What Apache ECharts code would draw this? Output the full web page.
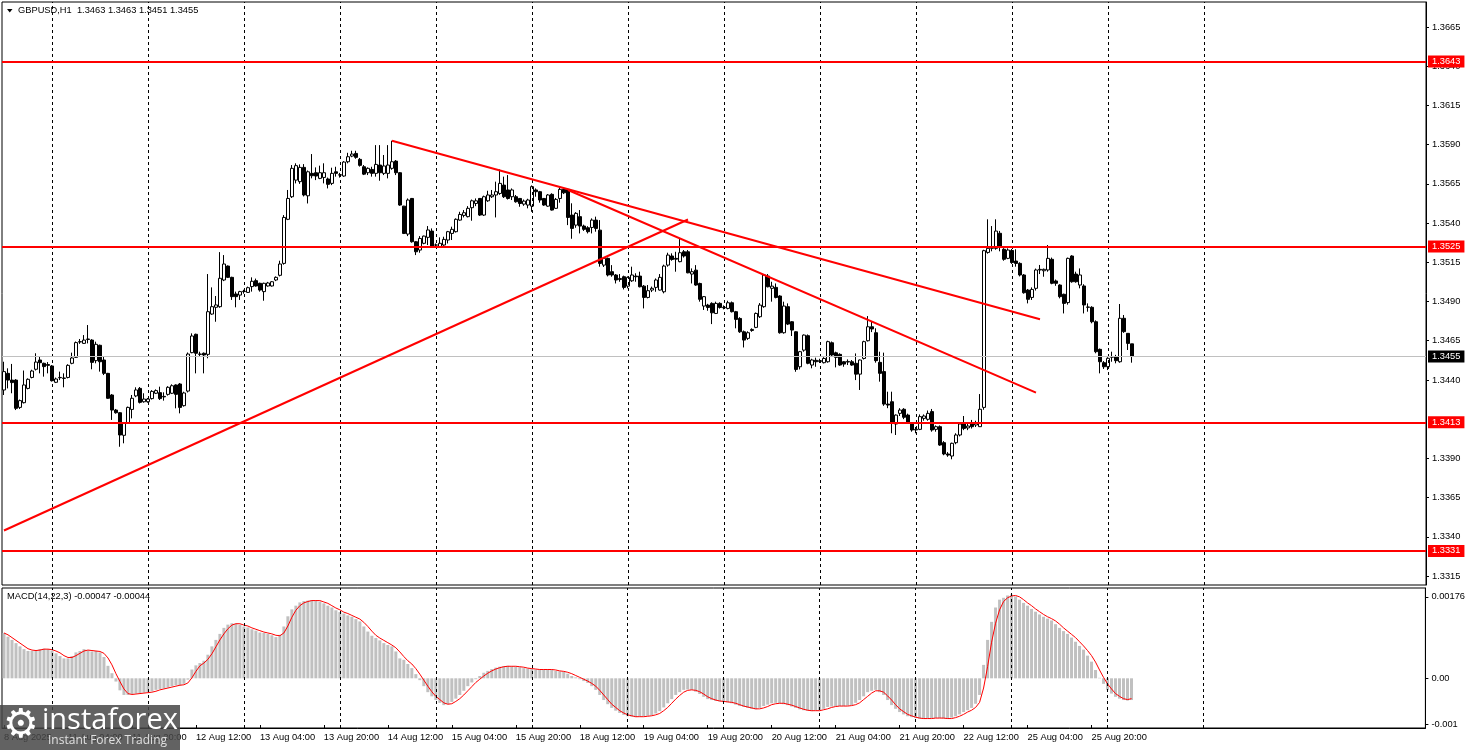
<!DOCTYPE html>
<html><head><meta charset="utf-8">
<script src="https://cdn.jsdelivr.net/npm/echarts@6/dist/echarts.min.js"></script>
<style>html,body{margin:0;padding:0;background:#fff}#c{width:1468px;height:750px}</style>
</head><body><div id="c"></div>
<script>
// Prices stored as pips above BASE
const BASE = 1.3300;
const openPips = [
133.6,144.2,139.9,139.9,122.5,125.5,134.6,141.6,146.8,152.7,
150.6,149.8,148.9,138.5,141.4,141.2,141.6,150.6,154.4,164.2,
163.3,165.8,165.4,152.3,162.1,152.7,144.2,130.4,120.8,119.1,
104.7,112.8,121.2,129.8,134.6,126.1,126.1,128.1,131.5,131.9,
129.5,130.8,131.5,136.8,137.4,123.6,132.9,157.4,169.1,156.3,
157.0,156.3,182.0,186.3,186.7,203.7,212.6,205.4,194.8,194.1,
196.3,195.8,199.5,203.3,201.6,196.3,199.9,199.9,203.7,206.7,
214.3,242.4,256.8,267.4,266.4,275.5,257.4,271.7,272.1,268.5,
269.1,268.1,265.3,272.7,270.6,270.0,279.1,282.7,284.4,280.6,
275.9,272.1,274.2,271.7,277.0,271.7,271.7,274.9,279.5,272.1,
250.8,233.0,255.7,228.1,222.8,227.1,230.9,234.9,226.0,224.9,
226.0,229.2,233.4,234.5,241.9,244.9,244.1,249.8,252.5,255.7,
245.1,254.2,256.8,257.9,258.9,264.2,261.1,256.8,256.8,255.7,
252.1,251.5,250.8,261.1,260.0,255.7,250.8,258.3,249.4,255.7,
261.5,261.5,245.1,238.7,244.1,238.1,237.0,237.2,241.9,235.5,
213.2,217.5,209.0,206.9,204.0,205.8,199.8,203.2,206.2,206.2,
199.8,192.6,197.3,199.0,197.3,196.2,213.2,219.0,217.5,215.4,
221.7,221.7,207.5,210.0,201.5,187.1,187.7,188.8,182.4,188.8,
186.0,185.6,189.2,183.5,179.2,170.7,166.5,171.5,173.5,180.3,
186.7,206.2,198.4,199.0,193.5,170.1,186.7,177.1,170.7,148.4,
159.0,168.2,149.5,152.5,151.8,151.0,151.6,163.7,157.3,156.3,
151.6,151.4,151.6,150.6,143.7,153.7,165.0,173.9,170.1,151.2,
145.3,124.6,126.1,111.9,118.7,121.3,117.6,112.4,108.1,108.5,
115.5,114.9,119.8,108.5,110.2,100.0,92.8,91.5,100.0,104.9,
111.9,109.4,111.9,111.3,110.2,122.5,221.3,223.9,223.9,233.5,
223.3,217.5,222.5,215.8,214.3,206.9,197.3,192.6,198.4,210.1,
209.6,210.1,216.9,203.1,200.5,194.6,189.3,219.0,207.5,200.5,
199.9,186.3,186.3,177.1,159.5,151.0,148.4,154.5,154.8,151.6,
179.3,169.7,163.0];
const highPips = [
151.6,147.4,150.2,140.5,127.5,146.0,141.0,146.5,157.0,154.8,
151.0,151.4,149.5,141.5,145.3,144.2,150.0,157.4,164.5,166.1,
168.6,175.0,166.0,164.4,162.5,154.8,144.5,131.0,121.5,119.5,
113.0,123.0,130.4,135.3,135.5,131.5,128.5,133.5,134.0,135.7,
132.1,136.0,137.2,137.2,138.0,132.5,157.5,169.7,169.5,158.0,
157.5,207.5,199.0,193.5,221.5,219.6,213.0,205.8,196.3,196.8,
197.5,199.5,205.4,204.6,202.0,202.0,202.5,203.0,206.0,216.0,
245.1,261.1,277.0,278.1,277.4,277.6,273.5,284.0,275.5,276.6,
278.1,269.0,275.3,275.9,272.0,279.5,284.8,286.1,286.1,281.5,
277.0,275.5,275.9,289.7,289.7,283.4,289.7,292.5,280.2,272.5,
251.0,255.7,256.0,228.5,231.7,232.0,238.1,236.6,227.0,230.9,
231.3,235.0,237.7,243.0,247.2,248.3,250.8,255.0,255.7,256.0,
257.5,260.6,261.1,266.4,274.2,269.6,270.6,262.1,257.9,256.0,
255.0,255.5,264.0,262.1,260.5,256.0,258.5,259.0,256.0,263.2,
262.5,262.0,252.6,247.0,248.3,239.0,238.0,243.0,244.1,241.9,
218.0,218.0,213.2,207.5,207.5,206.5,206.0,212.2,208.0,209.0,
200.5,200.5,199.5,204.7,207.5,213.5,221.1,220.7,221.7,230.2,
222.8,222.8,211.1,213.2,202.0,193.5,188.5,189.5,189.9,189.5,
187.5,190.5,190.0,184.0,180.0,171.5,171.0,172.9,183.0,189.0,
207.5,207.5,202.6,201.5,194.0,189.9,188.8,177.5,171.0,158.5,
169.0,169.0,153.5,154.2,153.5,154.5,165.0,164.5,158.0,157.0,
152.0,153.1,152.7,156.9,153.0,165.0,180.7,177.0,172.9,158.0,
157.4,132.5,132.5,118.0,122.0,122.0,118.5,113.0,110.0,118.0,
118.0,120.5,121.5,111.0,111.0,101.0,94.0,100.0,106.0,113.0,
117.0,112.0,114.5,114.0,131.0,223.0,242.4,238.1,242.4,235.0,
224.0,223.9,223.5,223.3,215.0,207.5,198.0,199.0,211.0,213.3,
211.0,226.0,218.0,204.0,201.0,195.0,218.0,219.5,209.0,211.1,
201.0,188.8,187.0,178.0,160.0,152.0,154.5,158.0,156.0,188.4,
181.4,169.7,163.0];
const lowPips = [
130.4,134.6,131.5,120.8,121.5,125.0,134.0,141.0,146.0,144.2,
142.1,144.2,139.0,138.0,139.9,135.3,141.0,150.0,154.0,163.0,
163.0,163.3,146.8,150.6,145.3,143.1,128.0,114.5,118.5,97.4,
99.6,112.0,115.5,129.0,125.0,125.5,125.5,127.5,131.0,127.2,
126.8,130.0,131.0,121.9,118.7,123.0,132.0,157.0,144.2,154.8,
144.2,153.8,181.5,177.1,186.0,203.0,205.0,191.0,186.3,191.0,
195.0,195.5,196.3,199.5,196.3,190.5,199.5,199.5,203.0,206.0,
213.5,241.9,256.0,265.3,265.0,257.0,252.5,268.5,267.4,268.0,
265.3,262.1,264.2,269.6,269.0,269.5,278.1,282.0,281.0,276.0,
270.6,270.6,269.6,269.6,267.0,270.6,268.5,274.0,270.6,251.0,
233.0,231.7,227.5,219.6,221.1,226.5,226.0,224.5,224.5,224.5,
225.5,227.0,229.2,234.0,241.5,243.6,243.6,241.5,250.8,244.5,
244.5,253.5,256.0,243.6,258.0,256.0,255.0,254.7,253.0,250.4,
251.0,249.4,247.2,256.8,253.0,251.0,250.4,248.0,249.0,253.0,
258.5,238.7,230.0,237.0,233.4,235.0,233.4,233.4,234.5,212.2,
212.0,206.0,205.8,201.5,202.6,197.7,198.4,202.5,202.6,199.0,
185.6,192.0,196.0,196.2,197.0,195.2,212.2,216.0,209.0,215.0,
218.0,208.0,201.5,200.0,189.9,184.6,184.1,175.6,182.0,185.5,
185.0,185.0,183.0,172.9,170.0,160.7,165.5,170.7,173.0,179.5,
186.0,199.0,189.9,192.0,169.5,169.5,175.0,168.0,145.2,146.7,
158.0,150.0,147.4,148.4,150.8,150.5,151.0,155.0,148.0,149.0,
148.4,149.5,149.0,139.9,133.6,153.0,164.5,170.5,151.0,138.9,
123.5,122.0,106.0,104.9,117.0,115.0,112.0,107.0,106.0,108.0,
114.0,114.0,107.0,107.0,98.0,92.0,91.0,89.4,99.0,104.0,
108.0,108.0,109.0,110.0,110.0,121.0,220.5,222.0,223.0,222.0,
216.0,217.0,214.0,212.2,206.0,195.0,188.8,191.0,197.0,207.5,
205.8,209.0,201.0,200.0,192.0,182.4,188.0,202.0,202.0,198.4,
182.4,183.5,176.1,157.0,144.2,147.0,146.3,151.6,150.6,151.0,
170.0,159.1,151.0];
const closePips = [
145.3,139.9,138.3,121.9,126.8,136.8,140.4,145.7,151.4,151.0,
148.5,149.3,139.5,140.6,141.6,141.0,149.3,154.0,163.8,164.4,
165.4,166.1,151.2,162.7,151.6,144.2,128.3,120.8,119.1,104.9,
112.3,122.5,128.3,133.6,125.7,127.8,127.8,132.7,133.2,128.1,
129.2,135.3,136.3,130.8,122.5,131.7,156.5,168.0,157.0,156.5,
155.9,183.5,186.7,187.8,204.8,213.9,205.4,193.1,193.1,196.3,
196.5,198.8,202.9,199.9,197.3,201.6,201.8,202.6,205.4,213.9,
243.6,255.7,274.9,276.6,275.5,257.9,272.7,270.2,270.0,272.1,
272.1,264.7,271.7,271.7,270.8,278.9,282.3,284.0,281.9,276.8,
271.2,274.9,271.7,277.4,272.1,276.4,277.0,279.1,272.1,251.5,
233.4,254.7,228.1,221.7,230.2,231.7,235.6,224.9,226.0,227.1,
229.6,234.5,236.0,242.4,245.5,246.6,249.4,254.2,254.2,245.1,
256.8,257.9,257.9,260.0,265.3,256.8,255.7,261.1,253.6,252.5,
254.0,254.7,263.2,260.0,254.7,251.5,257.9,248.3,255.1,261.5,
259.3,243.6,236.6,246.2,238.1,236.0,234.5,241.9,236.6,214.3,
217.5,206.9,206.9,203.7,204.7,199.0,205.4,206.9,205.8,199.4,
192.6,196.9,198.4,203.7,205.4,212.6,219.6,216.8,217.0,221.1,
219.0,208.3,209.0,200.5,191.4,193.1,186.2,182.8,188.8,186.2,
186.3,189.2,183.5,178.6,170.7,165.4,170.1,172.2,182.4,187.7,
206.9,199.4,199.8,192.6,170.1,187.1,175.6,171.8,146.7,158.0,
168.6,150.6,152.7,151.6,152.3,153.7,164.4,155.9,154.4,149.5,
150.1,151.8,149.5,143.7,152.7,164.4,173.9,172.5,152.3,144.2,
124.6,124.0,112.8,117.6,120.8,116.2,112.8,108.1,108.5,116.6,
117.0,118.7,108.1,110.2,98.5,92.8,92.1,99.6,104.9,111.9,
109.1,110.6,110.2,112.8,121.3,222.4,223.9,225.0,234.9,225.0,
216.9,222.8,214.8,214.3,206.9,195.6,191.4,197.7,210.1,210.5,
210.5,217.5,201.6,201.6,193.1,188.8,217.5,202.6,202.6,206.9,
187.8,186.5,177.1,158.0,151.6,148.4,153.8,154.8,152.3,179.3,
170.8,163.3,155.0];
// MACD values in units of 1e-5
const macdMain = [
98,90,83,76,69,63,59,59,61,63,
64,63,60,54,48,43,43,48,56,59,
63,60,58,59,56,46,27,11,-7,-26,
-36,-36,-34,-33,-33,-31,-30,-28,-25,-23,
-22,-20,-17,-15,-15,-12,-3,19,28,33,
38,51,69,83,96,109,116,119,118,116,
112,110,106,103,99,98,96,93,89,94,
112,134,149,157,164,167,168,169,168,166,
162,157,153,147,143,140,136,133,128,123,
112,101,92,87,82,76,72,69,58,43,
40,31,22,9,-4,-17,-30,-39,-47,-53,
-58,-56,-51,-44,-36,-27,-17,-9,-2,5,
12,16,20,23,25,26,27,26,25,24,
22,21,20,19,18,19,20,18,16,15,
14,10,5,2,-2,-6,-10,-17,-25,-36,
-47,-56,-64,-70,-75,-79,-82,-83,-84,-83,
-82,-81,-80,-76,-71,-63,-54,-45,-36,-30,
-25,-24,-25,-29,-34,-40,-45,-47,-49,-50,
-51,-52,-54,-57,-60,-62,-64,-66,-67,-64,
-60,-57,-54,-53,-54,-56,-58,-61,-64,-67,
-69,-70,-71,-70,-69,-66,-62,-61,-60,-60,
-60,-59,-58,-53,-47,-39,-30,-27,-25,-30,
-36,-47,-58,-66,-73,-78,-82,-84,-86,-87,
-88,-87,-86,-86,-86,-87,-88,-85,-82,-78,
-73,-69,-64,-55,-36,29,83,122,153,170,
174,179,181,177,170,163,157,150,144,138,
133,129,125,117,109,102,96,88,79,70,
62,49,36,18,1,-12,-25,-33,-40,-44,
-47,-48,-47];
const macdSignal = [
98,94,88,82,76,70,64,61,60,61,
63,63,62,59,55,49,45,45,49,54,
59,61,60,59,58,54,44,29,10,-7,
-23,-33,-35,-34,-33,-32,-31,-30,-28,-25,
-23,-21,-19,-17,-15,-14,-10,1,15,27,
33,41,53,68,83,96,107,115,118,118,
115,113,109,106,103,100,98,96,93,92,
98,113,132,147,157,163,166,168,168,168,
165,162,157,152,148,143,140,136,132,128,
121,112,102,93,87,82,77,72,66,57,
47,38,31,21,9,-4,-17,-29,-39,-46,
-53,-56,-55,-50,-44,-36,-27,-18,-9,-2,
5,11,16,20,23,25,26,26,26,25,
24,22,21,20,19,19,19,19,18,16,
15,13,10,6,2,-2,-6,-11,-17,-26,
-36,-46,-56,-63,-70,-75,-79,-81,-83,-83,
-83,-82,-81,-79,-76,-70,-63,-54,-45,-37,
-30,-26,-25,-26,-29,-34,-40,-44,-47,-49,
-50,-51,-52,-54,-57,-60,-62,-64,-66,-66,
-64,-61,-57,-55,-54,-54,-56,-58,-61,-64,
-67,-69,-70,-70,-70,-68,-66,-63,-61,-60,
-60,-60,-59,-57,-53,-46,-39,-32,-27,-27,
-30,-38,-47,-57,-66,-72,-78,-81,-84,-86,
-87,-87,-87,-86,-86,-86,-87,-87,-85,-82,
-78,-73,-69,-63,-52,-21,25,78,119,148,
166,174,178,179,176,170,163,157,150,144,
138,133,129,124,117,109,102,95,88,79,
70,60,49,35,18,2,-12,-23,-33,-39,
-44,-46,-44];
const levels = [1.3643, 1.3525, 1.3413, 1.3331];
const currentPrice = 1.3455;
// trend lines: [[barIndex, price],[barIndex, price]]
const trendLines = [
  [[0, 1.33440], [171, 1.35423]],
  [[97, 1.35925], [259, 1.34787]],
  [[141, 1.35611], [258, 1.34319]]
];
const priceTicks = [1.3315,1.3340,1.3365,1.3390,1.3440,1.3465,1.3490,1.3515,1.3540,1.3565,1.3590,1.3615,1.3640,1.3665];
const macdTicks = [0.00176, 0, -0.001];
const macdTickLabels = ['0.00176', '0.00', '-0.001'];
const gridBars = [12,36,60,84,108,132,156,180,204,228,252,276,300];
const titleText = 'GBPUSD,H1  1.3463 1.3463 1.3451 1.3455';
const macdText = 'MACD(14,22,3) -0.00047 -0.00044';

// categories: hourly bars, weekends skipped
const MONTHS = ['Jan','Feb','Mar','Apr','May','Jun','Jul','Aug','Sep','Oct','Nov','Dec'];
const N_SLOTS = 356;
const cats = [];
let t = Date.UTC(2025, 7, 8, 12);
while (cats.length < N_SLOTS) {
  const d = new Date(t);
  const wd = d.getUTCDay();
  if (wd !== 0 && wd !== 6) {
    const lab = cats.length === 0
      ? d.getUTCDate() + ' ' + MONTHS[d.getUTCMonth()] + ' ' + d.getUTCFullYear()
      : d.getUTCDate() + ' ' + MONTHS[d.getUTCMonth()] + ' ' + String(d.getUTCHours()).padStart(2, '0') + ':00';
    cats.push(lab);
  }
  t += 3600000;
}
const LAST = closePips.length - 1;
const px = v => +(BASE + v / 10000).toFixed(5);
const candles = closePips.map((c, i) => [px(openPips[i]), px(c), px(lowPips[i]), px(highPips[i])]);

const FONT = 'Liberation Sans';
const FS = 9.3;
const PMAX = 1.3665 + 25 / 15686;
const PMIN = 1.3665 - 558 / 15686;
const MK = 46268;
const MMAX = (678.3 - 588) / MK;
const MMIN = -(728 - 678.3) / MK;

const vgrid = gridBars.map(b => ({xAxis: cats[b], lineStyle: {color: '#000', width: 1, type: [3, 3]}, label: {show: false}}));
const mainML = vgrid.slice();
mainML.push({yAxis: currentPrice, lineStyle: {color: '#c0c0c0', width: 1, type: 'solid'},
  label: {show: true, position: 'end', distance: 2, formatter: currentPrice.toFixed(4), backgroundColor: '#000', color: '#fff', padding: [2, 4, 1, 4], fontSize: FS, fontFamily: FONT}});
levels.forEach(v => mainML.push({yAxis: v, lineStyle: {color: '#ff0000', width: 2, type: 'solid'},
  label: {show: true, position: 'end', distance: 2, formatter: v.toFixed(4), backgroundColor: '#ff0000', color: '#fff', padding: [2, 4, 1, 4], fontSize: FS, fontFamily: FONT}}));
trendLines.forEach(tl => mainML.push([
  {coord: [cats[tl[0][0]], tl[0][1]], lineStyle: {color: '#ff0000', width: 2, type: 'solid'}, label: {show: false}},
  {coord: [cats[tl[1][0]], tl[1][1]]}
]));

const labelInterval = (idx) => idx % 16 === 0 && idx <= LAST;

const option = {
  animation: false,
  backgroundColor: '#ffffff',
  textStyle: {fontFamily: FONT},
  grid: [
    {left: 2, right: 42, top: 2, height: 583, show: true, borderColor: '#000', borderWidth: 1, backgroundColor: '#fff'},
    {left: 2, right: 42, top: 588, height: 140, show: true, borderColor: '#000', borderWidth: 1, backgroundColor: '#fff'}
  ],
  xAxis: [
    {type: 'category', gridIndex: 0, data: cats, boundaryGap: true, axisLine: {show: false}, axisTick: {show: false}, axisLabel: {show: false}, splitLine: {show: false}},
    {type: 'category', gridIndex: 1, data: cats, boundaryGap: true, position: 'bottom',
      axisLine: {show: true, onZero: false, lineStyle: {color: '#000'}},
      axisTick: {show: true, alignWithLabel: true, inside: true, length: 3, interval: labelInterval, lineStyle: {color: '#000'}},
      axisLabel: {show: true, interval: labelInterval, align: 'left', margin: 5, fontSize: FS, color: '#000', fontFamily: FONT},
      splitLine: {show: false}}
  ],
  yAxis: [
    {type: 'value', gridIndex: 0, position: 'right', min: PMIN, max: PMAX, scale: true,
      splitLine: {show: false},
      axisLine: {show: true, lineStyle: {color: '#000'}},
      axisTick: {show: true, customValues: priceTicks, length: 3, lineStyle: {color: '#000'}},
      axisLabel: {show: true, customValues: priceTicks, formatter: v => v.toFixed(4), fontSize: FS, color: '#000', margin: 6, fontFamily: FONT}},
    {type: 'value', gridIndex: 1, position: 'right', min: MMIN, max: MMAX,
      splitLine: {show: false},
      axisLine: {show: true, lineStyle: {color: '#000'}},
      axisTick: {show: true, customValues: macdTicks, length: 3, lineStyle: {color: '#000'}},
      axisLabel: {show: true, customValues: macdTicks, formatter: v => {
        let k = 0, best = 1;
        macdTicks.forEach((m, j) => { if (Math.abs(m - v) < best) { best = Math.abs(m - v); k = j; } });
        return macdTickLabels[k];
      }, fontSize: FS, color: '#000', margin: 6, fontFamily: FONT}}
  ],
  series: [
    {type: 'candlestick', xAxisIndex: 0, yAxisIndex: 0, data: candles, barWidth: 3,
      itemStyle: {color: '#ffffff', color0: '#000000', borderColor: '#000000', borderColor0: '#000000', borderWidth: 1},
      markLine: {symbol: ['none', 'none'], precision: 5, silent: true, animation: false, data: mainML}},
    {type: 'bar', xAxisIndex: 1, yAxisIndex: 1, data: macdMain.map(v => v / 100000), barWidth: 3,
      itemStyle: {color: '#c0c0c0'},
      markLine: {symbol: ['none', 'none'], precision: 6, silent: true, animation: false, data: vgrid}},
    {type: 'line', xAxisIndex: 1, yAxisIndex: 1, data: macdSignal.map(v => v / 100000), showSymbol: false, symbol: 'none',
      lineStyle: {color: '#ff0000', width: 1}, z: 3}
  ],
  graphic: [
    {type: 'polygon', shape: {points: [[7, 9], [12.5, 9], [9.75, 12.5]]}, style: {fill: '#000'}, z: 100},
    {type: 'text', x: 18, y: 10.5, style: {text: titleText, fill: '#000', font: FS + 'px "' + FONT + '"', verticalAlign: 'middle'}, z: 100},
    {type: 'text', x: 7, y: 596, style: {text: macdText, fill: '#000', font: FS + 'px "' + FONT + '"', verticalAlign: 'middle'}, z: 100},
    {type: 'group', z: 100, children: [
      {type: 'rect', shape: {x: 0, y: 705, width: 180, height: 45}, style: {fill: 'rgba(70,70,70,0.85)'}, z: 100},
      {type: 'text', x: 3, y: 727, style: {text: '\u2699', fill: '#fff', font: '40px "DejaVu Sans"', verticalAlign: 'middle'}, z: 101},
      {type: 'text', x: 42, y: 721, style: {text: 'instaforex', fill: '#fff', font: '29px "Open Sans"', verticalAlign: 'middle'}, z: 101},
      {type: 'text', x: 48, y: 741, style: {text: 'Instant Forex Trading', fill: '#e0e0e0', font: '12px "Open Sans"', verticalAlign: 'middle'}, z: 101}
    ]}
  ]
};
const chart = echarts.init(document.getElementById('c'), null, {renderer: 'canvas'});
chart.setOption(option);
</script>
</body></html>
